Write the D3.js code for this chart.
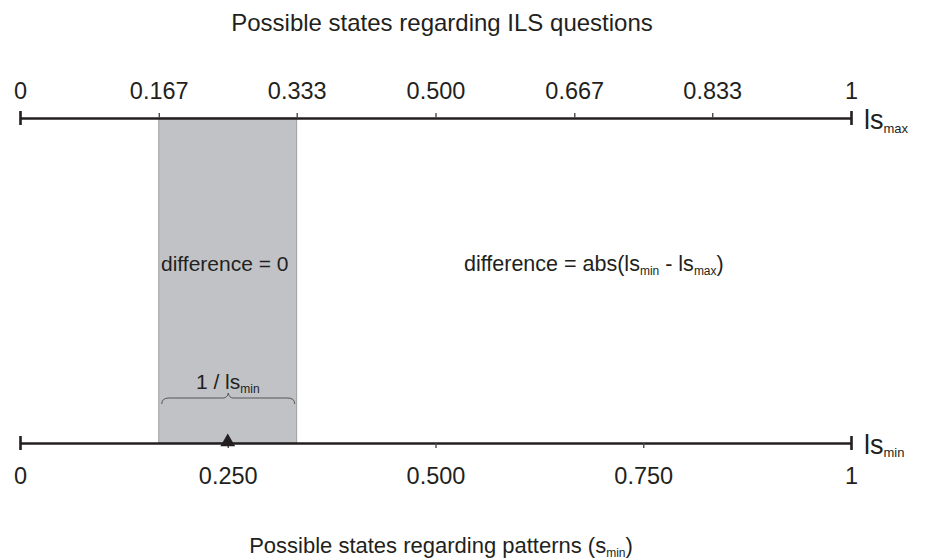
<!DOCTYPE html>
<html>
<head>
<meta charset="utf-8">
<script src="https://cdn.jsdelivr.net/npm/d3@7"></script>
<style>
  body { margin: 0; background: #fff; }
  svg { font-family: "Liberation Sans", Arial, sans-serif; fill: #231f20; }
</style>
</head>
<body>
<svg id="chart" width="928" height="560"></svg>
<script>
const topTicks = [0, 0.167, 0.333, 0.5, 0.667, 0.833, 1];
const topLabels = ["0", "0.167", "0.333", "0.500", "0.667", "0.833", "1"];
const bottomTicks = [0, 0.25, 0.5, 0.75, 1];
const bottomLabels = ["0", "0.250", "0.500", "0.750", "1"];
const zeroBand = [0.167, 0.333];
const markerValue = 0.25;

const svg = d3.select("#chart");
const ink = "#231f20";

const x = d3.scaleLinear().domain([0, 1]).range([20, 851]);
const yTop = 118;
const yBottom = 443;

// grey band where difference is zero
svg
  .append("rect")
  .attr("x", x(zeroBand[0]))
  .attr("y", yTop)
  .attr("width", x(zeroBand[1]) - x(zeroBand[0]))
  .attr("height", yBottom - yTop)
  .attr("fill", "#c1c2c6")
  .attr("stroke", "#8f8f92")
  .attr("stroke-width", 0.8);

function styleAxis(g) {
  g.select(".domain").attr("stroke", ink).attr("stroke-width", 2.6);
  g.selectAll(".tick line").attr("stroke", "#4a4a4a").attr("stroke-width", 1.4);
  g.selectAll(".tick text")
    .attr("fill", ink)
    .attr("font-size", 23.5)
    .attr("font-family", "Liberation Sans, Arial, sans-serif");
  g.selectAll(".tick")
    .filter((d) => d === 0 || d === 1)
    .select("line")
    .attr("y1", -7)
    .attr("y2", 7)
    .attr("stroke", ink)
    .attr("stroke-width", 2.6);
}

svg
  .append("g")
  .attr("transform", `translate(0,${yTop})`)
  .call(
    d3
      .axisTop(x)
      .tickValues(topTicks)
      .tickFormat((d, i) => topLabels[i])
      .tickSize(5)
      .tickSizeOuter(0)
      .tickPadding(14)
  )
  .call(styleAxis);

svg
  .append("g")
  .attr("transform", `translate(0,${yBottom})`)
  .call(
    d3
      .axisBottom(x)
      .tickValues(bottomTicks)
      .tickFormat((d, i) => bottomLabels[i])
      .tickSize(5)
      .tickSizeOuter(0)
      .tickPadding(19)
  )
  .call(styleAxis);

// marker on lower axis
svg
  .append("path")
  .attr("d", d3.symbol(d3.symbolTriangle, 95)())
  .attr("transform", `translate(${x(markerValue)},${yBottom - 1})`)
  .attr("fill", ink);

// axis names
function subLabel(xPos, yPos, main, sub, size, subSize, dy) {
  const t = svg
    .append("text")
    .attr("x", xPos)
    .attr("y", yPos)
    .attr("font-size", size);
  t.append("tspan").text(main);
  t.append("tspan").attr("font-size", subSize).attr("dy", dy).text(sub);
  return t;
}

subLabel(864, 129, "ls", "max", 27, 13, 4);
subLabel(864, 454, "ls", "min", 27, 13, 3);

// titles
svg
  .append("text")
  .attr("x", 442)
  .attr("y", 31)
  .attr("text-anchor", "middle")
  .attr("font-size", 24)
  .text("Possible states regarding ILS questions");

const bottomTitle = svg
  .append("text")
  .attr("x", 441)
  .attr("y", 553)
  .attr("text-anchor", "middle")
  .attr("font-size", 22);
bottomTitle.append("tspan").text("Possible states regarding patterns (s");
bottomTitle.append("tspan").attr("font-size", 12).attr("dy", 4).text("min");
bottomTitle.append("tspan").attr("dy", -4).text(")");

// annotations
svg
  .append("text")
  .attr("x", (x(zeroBand[0]) + x(zeroBand[1])) / 2 - 3)
  .attr("y", 271)
  .attr("text-anchor", "middle")
  .attr("font-size", 21)
  .text("difference = 0");

const diff = svg
  .append("text")
  .attr("x", 464)
  .attr("y", 271)
  .attr("font-size", 21.5);
diff.append("tspan").text("difference = abs(ls");
diff.append("tspan").attr("font-size", 12).attr("dy", 4).text("min");
diff.append("tspan").attr("dy", -4).text(" - ls");
diff.append("tspan").attr("font-size", 12).attr("dy", 4).text("max");
diff.append("tspan").attr("dy", -4).text(")");

const width = svg
  .append("text")
  .attr("x", (x(zeroBand[0]) + x(zeroBand[1])) / 2)
  .attr("y", 389)
  .attr("text-anchor", "middle")
  .attr("font-size", 21);
width.append("tspan").text("1 / ls");
width.append("tspan").attr("font-size", 12).attr("dy", 4).text("min");

// curly brace under the label
const bx0 = x(zeroBand[0]) + 3;
const bx1 = x(zeroBand[1]) - 2;
const bm = (bx0 + bx1) / 2;
const by = 398;
const brace = d3.path();
brace.moveTo(bx0, by + 6);
brace.quadraticCurveTo(bx0, by, bx0 + 7, by);
brace.lineTo(bm - 5, by);
brace.quadraticCurveTo(bm - 1, by, bm, by - 5);
brace.quadraticCurveTo(bm + 1, by, bm + 5, by);
brace.lineTo(bx1 - 7, by);
brace.quadraticCurveTo(bx1, by, bx1, by + 6);
svg
  .append("path")
  .attr("d", brace.toString())
  .attr("fill", "none")
  .attr("stroke", "#555")
  .attr("stroke-width", 1);
</script>
</body>
</html>
